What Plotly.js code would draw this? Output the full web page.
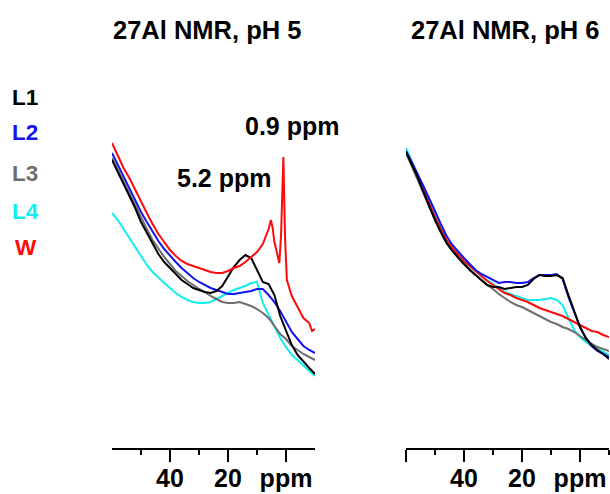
<!DOCTYPE html>
<html>
<head>
<meta charset="utf-8">
<script src="https://cdn.plot.ly/plotly-3.0.1.min.js"></script>
<style>
  html, body { margin: 0; padding: 0; background: #fff; }
  #chart { width: 610px; height: 494px; }
</style>
</head>
<body>
<div id="chart"></div>
<script>
// ---------------- data (chemical shift in ppm, intensity in arbitrary units) ----------------
const ppm = [60,58,56,54,52,50,48,46,44,42,40,38,36,34,32,30,28,26,24,22,20,18,16,14,12,10,8,6,4,2,0,-2,-4,-6,-8,-10];

// pH 5 panel
const ph5_L1 = [288,276,265,253,240,226,215,204,194,186,180,173,168,164,160,158,156,155,157,162,171,181,188,193,190,178,166,164,153,132,117,103,93,86,80,74];
const ph5_L2 = [295,283,272,260,248,236,226,216,207,199,192,186,180,175,170,166,163,160,158,156,154,154,155,156,157,159,159,153,146,137,126,116,109,102,98,95];
const ph5_L3 = [290,278,267,255,243,230,219,208,199,191,184,177,172,167,163,159,156,152,149,146,145,145,146,144,142,139,135,130,122,114,109,102,98,94,91,88];
const ph5_L4 = [235,228,219,210,200,191,183,176,170,165,160,155,151,148,146,145,145,146,149,152,155,158,160,162,165,166,145,133,121,110,101,93,88,82,77,72];
const ph5_W_ppm = [60,58,56,54,52,50,48,46,44,42,40,38,36,34,32,30,28,26,24,22,20,18,16,14,12,10,8,
                   7,6,5.2,4.6,4,3,2.3,1.7,1.3,0.9,0.6,0.3,-0.3,-2,-4,-6,-8,-9,-10];
const ph5_W = [305,293,280,270,258,246,235,224,214,206,198,192,187,184,182,180,178,176,175,175,177,180,182,186,191,196,204,
               211,219,228,220,206,192,185,213,253,291,248,208,168,152,141,130,125,117,119];

// pH 6 panel
const ph6_L1 = [296,284,271,256,242,228,216,205,197,190,184,178,173,168,163,161,161,159,160,161,161,163,169,173,172,172,173,170,153,137,121,110,103,98,94,89];
const ph6_L2 = [297,286,274,262,250,237,224,212,203,196,190,184,178,174,171,168,165,166,166,165,165,166,170,173,173,173,174,169,151,136,121,110,102,97,94,91];
const ph6_L3 = [295,282,269,255,241,228,216,205,197,190,184,178,173,168,163,159,154,150,146,143,141,138,135,132,129,126,124,121,119,116,112,108,104,101,99,97];
const ph6_L4 = [300,287,274,260,246,232,220,208,200,193,187,182,177,172,168,164,160,156,154,152,150,148,148,148,149,150,148,143,130,118,111,106,102,99,96,93];
const ph6_W = [296,285,272,258,244,231,219,208,200,193,187,182,177,172,167,163,159,155,153,150,148,146,143,140,138,136,134,132,129,126,123,120,117,116,113,111];

const seriesNames = ['L1','L2','L3','L4','W'];
const seriesColors = {L1:'#000000', L2:'#1414f0', L3:'#6e6e6e', L4:'#12eeee', W:'#ff0a0a'};
const panelTitles = ['27Al NMR, pH 5', '27Al NMR, pH 6'];
const tickLabels = ['40','20','ppm'];
const peakLabels = ['0.9 ppm', '5.2 ppm'];

// ---------------- layout helpers ----------------
const W = 610, H = 494;
const px2x = p => p / W;
const py2y = p => 1 - p / H;
const FONT = 'Liberation Sans, Arial, Helvetica, sans-serif';

function tr(x, y, name, axis) {
  return {
    x: x, y: y, name: name, type: 'scatter', mode: 'lines',
    xaxis: axis, yaxis: 'y',
    line: {color: seriesColors[name], width: 2},
    hoverinfo: 'skip'
  };
}

const data = [
  tr(ppm, ph5_L4, 'L4', 'x'),
  tr(ppm, ph5_L3, 'L3', 'x'),
  tr(ppm, ph5_L2, 'L2', 'x'),
  tr(ppm, ph5_L1, 'L1', 'x'),
  tr(ph5_W_ppm, ph5_W, 'W', 'x'),
  tr(ppm, ph6_L4, 'L4', 'x2'),
  tr(ppm, ph6_W, 'W', 'x2'),
  tr(ppm, ph6_L3, 'L3', 'x2'),
  tr(ppm, ph6_L2, 'L2', 'x2'),
  tr(ppm, ph6_L1, 'L1', 'x2')
];

function xax(domain, majors, labels, minors) {
  return {
    domain: domain, range: [60, -10], anchor: 'y',
    showline: true, linecolor: '#000', linewidth: 1.6,
    showgrid: false, zeroline: false,
    ticks: 'outside', ticklen: 12, tickwidth: 1.5, tickcolor: '#000',
    tickmode: 'array', tickvals: majors, ticktext: labels,
    tickfont: {family: FONT, size: 25, color: '#000', weight: 'bold'},
    ticklabelstandoff: -5,
    minor: {tickmode: 'array', tickvals: minors, ticks: 'outside', ticklen: 5, tickwidth: 1.5, tickcolor: '#000', showgrid: false},
    fixedrange: true
  };
}

const annotations = [];
function txt(text, x, y, size, color, xanchor) {
  annotations.push({
    text: text, xref: 'paper', yref: 'paper', x: x, y: y,
    xanchor: xanchor, yanchor: 'middle', showarrow: false,
    font: {family: FONT, size: size, color: color, weight: 'bold'}
  });
}
txt(panelTitles[0], px2x(207), py2y(30), 25.5, '#000', 'center');
txt(panelTitles[1], px2x(505), py2y(30), 25.5, '#000', 'center');
txt(peakLabels[0], px2x(243), py2y(126), 25, '#000', 'left');
txt(peakLabels[1], px2x(175), py2y(178), 25, '#000', 'left');
const legendY = [97, 133, 173, 211, 248];
seriesNames.forEach((n, i) => txt(n, px2x(n === 'W' ? 13 : 10), py2y(legendY[i]), 22.5, seriesColors[n], 'left'));

const layout = {
  width: W, height: H,
  margin: {l: 0, r: 0, t: 0, b: 0},
  paper_bgcolor: '#fff', plot_bgcolor: '#fff',
  showlegend: false,
  xaxis: xax([px2x(112), px2x(315)], [40, 20, 0], tickLabels, [50, 30, 10]),
  xaxis2: xax([px2x(406), px2x(609)], [60, 40, 20, 0], [''].concat(tickLabels), [50, 30, 10, -10]),
  yaxis: {domain: [py2y(448), py2y(100)], range: [0, 348], visible: false, fixedrange: true},
  annotations: annotations
};

Plotly.newPlot('chart', data, layout, {staticPlot: true, displayModeBar: false});
</script>
</body>
</html>
